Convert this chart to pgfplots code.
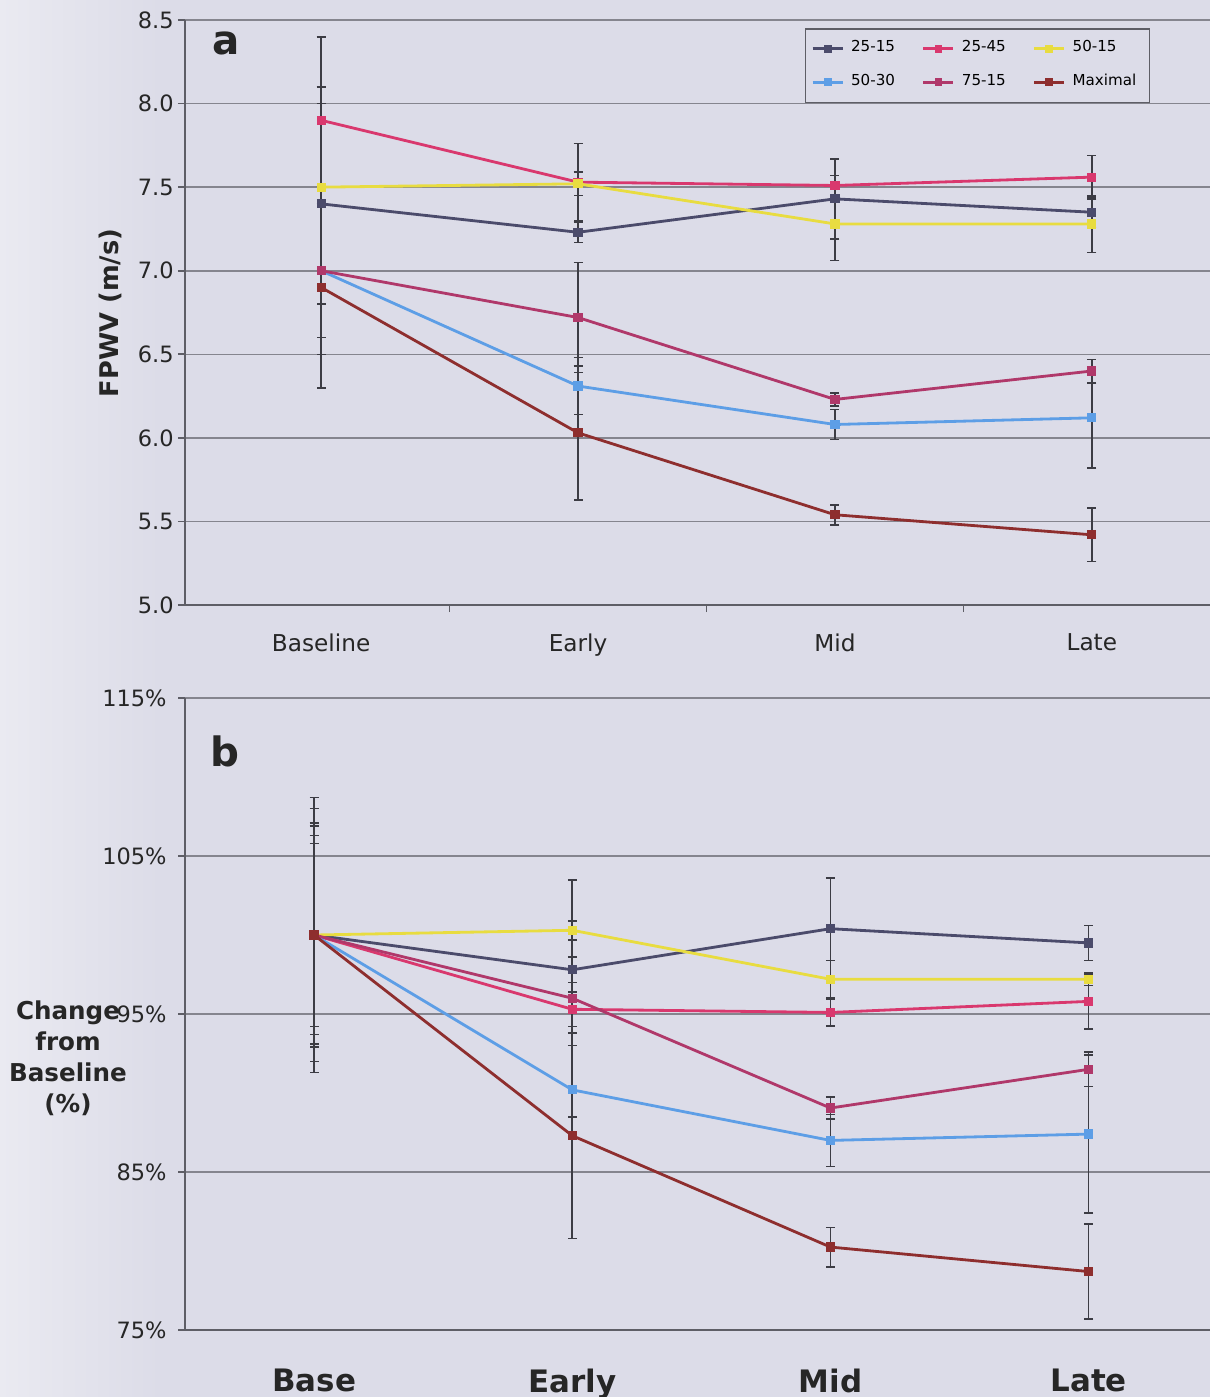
\documentclass[border=0pt]{standalone}
\usepackage{pgfplots}
\pgfplotsset{compat=1.18}
\usepackage{fontspec}
\setmainfont{DejaVu Sans}
\definecolor{bgcol}{HTML}{DCDCE8}
\definecolor{bgleft}{HTML}{EAEAF1}
\definecolor{gridc}{HTML}{85858E}
\definecolor{axisc}{HTML}{5E5E66}
\definecolor{errc}{HTML}{3C3C44}
\definecolor{cA}{HTML}{4B4B6B}
\definecolor{cB}{HTML}{D9386E}
\definecolor{cC}{HTML}{E8DC40}
\definecolor{cD}{HTML}{5D9EE6}
\definecolor{cE}{HTML}{B0386A}
\definecolor{cF}{HTML}{8E2E2E}
\pgfplotsset{
  ser/.style={color=#1, line width=0.8pt, mark=square*, mark size=0.32mm,
    mark options={solid, fill=#1},
    /pgfplots/error bars/y dir=both, /pgfplots/error bars/y explicit,
    /pgfplots/error bars/error mark=-,
    /pgfplots/error bars/error bar style={color=errc, line width=0.45pt},
    /pgfplots/error bars/error mark options={rotate=90, color=errc, mark size=0.45mm, line width=0.45pt}},
  common/.style={scale only axis, width=102.5mm,
    axis x line*=bottom, axis y line*=left,
    axis line style={color=axisc, line width=0.5pt},
    ymajorgrids, grid style={color=gridc, line width=0.45pt},
    tick align=outside, major tick length=0.7mm,
    ytick style={color=axisc, line width=0.5pt},
    xtick style={draw=none},
    /pgf/number format/assume math mode=true,
    yticklabel style={font=\fontsize{6.4}{7.5}\selectfont, color=black!85},
    clip=false},
}
\begin{document}
\begin{tikzpicture}
\path[use as bounding box, fill=bgcol] (0,0) rectangle (121mm,-139.7mm);
\shade[left color=bgleft, right color=bgcol] (0,0) rectangle (16mm,-139.7mm);

% ---------------- panel a ----------------
\begin{axis}[common,
  at={(18.5mm,-60.5mm)}, anchor=south west, height=58.5mm,
  xmin=-0.53, xmax=3.46, ymin=5, ymax=8.5,
  ytick={5,5.5,6,6.5,7,7.5,8,8.5},
  yticklabel style={xshift=0.8mm, /pgf/number format/.cd, fixed, fixed zerofill, precision=1},
  xtick={0,1,2,3}, xticklabels={Baseline,Early,Mid,Late},
  xticklabel style={font=\fontsize{6.6}{8}\selectfont, color=black!85, yshift=-0.9mm},
  extra x ticks={0.5,1.5,2.5}, extra x tick labels={},
  extra x tick style={grid=none, xtick style={draw=axisc, line width=0.5pt}, major tick length=0.7mm},
  legend columns=3, legend cell align=left,
  legend image code/.code={\draw[#1, mark repeat=2, mark phase=2, mark size=0.25mm] plot coordinates {(0mm,0mm) (1.5mm,0mm) (3mm,0mm)};},
  legend style={draw=axisc, line width=0.4pt, fill=bgcol, font=\fontsize{4.3}{5}\selectfont,
    at={(rel axis cs:0.9415,0.986)}, anchor=north east,
    inner xsep=0.6mm, inner ysep=0.45mm, row sep=0.3mm,
    /tikz/every even column/.append style={column sep=2.0mm}},
]
\addplot[ser=cA] coordinates {(0,7.40) +- (0,0.60) (1,7.23) +- (0,0.06) (2,7.43) +- (0,0.24) (3,7.35) +- (0,0.09)};
\addlegendentry{25-15}
\addplot[ser=cB] coordinates {(0,7.90) +- (0,0.50) (1,7.53) +- (0,0.23) (2,7.51) +- (0,0.06) (3,7.56) +- (0,0.13)};
\addlegendentry{25-45}
\addplot[ser=cC] coordinates {(0,7.50) +- (0,0.60) (1,7.52) +- (0,0.07) (2,7.28) +- (0,0.22) (3,7.28) +- (0,0.17)};
\addlegendentry{50-15}
\addplot[ser=cD] coordinates {(0,7.00) +- (0,0.50) (1,6.31) +- (0,0.17) (2,6.08) +- (0,0.09) (3,6.12) +- (0,0.30)};
\addlegendentry{50-30}
\addplot[ser=cE] coordinates {(0,7.00) +- (0,0.40) (1,6.72) +- (0,0.33) (2,6.23) +- (0,0.04) (3,6.40) +- (0,0.07)};
\addlegendentry{75-15}
\addplot[ser=cF] coordinates {(0,6.90) +- (0,0.60) (1,6.03) +- (0,0.40) (2,5.54) +- (0,0.06) (3,5.42) +- (0,0.16)};
\addlegendentry{Maximal}
\node[font=\bfseries\fontsize{11.5}{12}\selectfont, color=black!85] at (axis cs:-0.37,8.357) {a};
\end{axis}
\node[rotate=90, font=\bfseries\fontsize{7.3}{8}\selectfont, color=black!85] at (11mm,-31.3mm) {FPWV (m/s)};

% ---------------- panel b ----------------
\begin{axis}[common,
  at={(18.5mm,-133.0mm)}, anchor=south west, height=63.2mm,
  xmin=-0.5, xmax=3.47, ymin=75, ymax=115,
  ytick={75,85,95,105,115},
  yticklabel={\pgfmathprintnumber{\tick}\%},
  yticklabel style={xshift=0.1mm},
  xtick={0,1,2,3}, xticklabels={Base,Early,Mid,Late},
  xticklabel style={font=\bfseries\fontsize{8.8}{10}\selectfont, color=black!85, yshift=-2.0mm},
]
\addplot[ser=cA] coordinates {(0,100) +- (0,8.0) (1,97.8) +- (0,0.8) (2,100.4) +- (0,3.2) (3,99.5) +- (0,1.1)};
\addplot[ser=cB] coordinates {(0,100) +- (0,6.3) (1,95.3) +- (0,1.1) (2,95.1) +- (0,0.85) (3,95.8) +- (0,1.75)};
\addplot[ser=cC] coordinates {(0,100) +- (0,7.1) (1,100.3) +- (0,0.6) (2,97.2) +- (0,1.2) (3,97.2) +- (0,0.4)};
\addplot[ser=cD] coordinates {(0,100) +- (0,6.9) (1,90.2) +- (0,2.8) (2,87.0) +- (0,1.65) (3,87.4) +- (0,5.0)};
\addplot[ser=cE] coordinates {(0,100) +- (0,5.8) (1,96.0) +- (0,7.5) (2,89.05) +- (0,0.7) (3,91.5) +- (0,1.1)};
\addplot[ser=cF] coordinates {(0,100) +- (0,8.7) (1,87.3) +- (0,6.5) (2,80.25) +- (0,1.25) (3,78.7) +- (0,3.0)};
\node[font=\bfseries\fontsize{11.5}{12}\selectfont, color=black!85] at (axis cs:-0.345,111.6) {b};
\end{axis}
\node[align=center, font=\bfseries\fontsize{7}{8.8}\selectfont, color=black!85] at (6.8mm,-105.8mm) {Change\\from\\Baseline\\(\%)};
\end{tikzpicture}
\end{document}
